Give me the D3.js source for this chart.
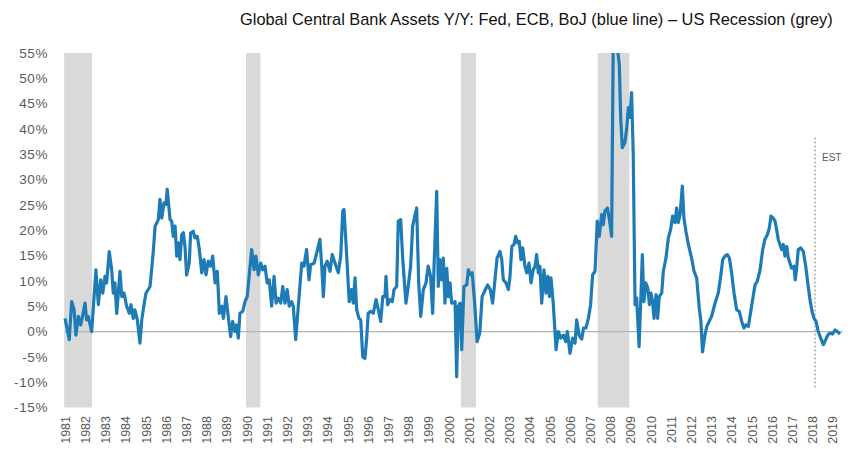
<!DOCTYPE html>
<html>
<head>
<meta charset="utf-8">
<script src="https://cdn.jsdelivr.net/npm/d3@7"></script>
<style>
  html, body { margin: 0; padding: 0; background: #fff; }
  svg { display: block; }
</style>
</head>
<body>
<svg id="chart" width="850" height="449"></svg>
<script>
// ---------- DATA ----------
const titleText = "Global Central Bank Assets Y/Y: Fed, ECB, BoJ (blue line) \u2013 US Recession (grey)";

// decimal year of each observation
const years = [
1981.54,1981.75,1981.87,1981.99,1982.08,1982.20,1982.32,1982.42,1982.53,1982.61,1982.69,1982.86,1982.94,
1983.07,1983.19,1983.31,1983.41,1983.52,1983.60,1983.73,1983.85,1983.93,1984.01,1984.10,1984.18,1984.26,
1984.35,1984.46,1984.59,1984.72,1984.81,1984.92,1985.00,1985.12,1985.25,1985.34,1985.45,1985.55,1985.66,
1985.75,1985.91,1986.00,1986.16,1986.24,1986.33,1986.44,1986.54,1986.60,1986.74,1986.82,1986.90,1986.99,
1987.07,1987.15,1987.23,1987.32,1987.40,1987.48,1987.56,1987.69,1987.76,1987.89,1987.97,1988.09,1988.19,
1988.31,1988.42,1988.52,1988.63,1988.75,1988.85,1988.97,1989.08,1989.18,1989.30,1989.38,1989.51,1989.62,
1989.74,1989.84,1989.96,1990.04,1990.12,1990.20,1990.34,1990.45,1990.56,1990.78,1990.90,1990.99,1991.11,
1991.23,1991.33,1991.44,1991.55,1991.65,1991.77,1991.89,1991.99,1992.10,1992.22,1992.32,1992.43,1992.54,
1992.64,1992.76,1992.84,1992.96,1993.09,1993.26,1993.37,1993.50,1993.62,1993.70,1993.87,1994.00,1994.16,
1994.25,1994.33,1994.41,1994.52,1994.66,1994.77,1994.91,1995.07,1995.19,1995.29,1995.35,1995.45,1995.61,
1995.73,1995.81,1995.90,1995.98,1996.09,1996.18,1996.28,1996.39,1996.48,1996.55,1996.67,1996.80,1996.94,
1997.05,1997.17,1997.27,1997.38,1997.43,1997.51,1997.63,1997.74,1997.83,1997.96,1998.04,1998.16,1998.26,
1998.42,1998.53,1998.65,1998.75,1998.95,1999.05,1999.15,1999.28,1999.41,1999.52,1999.64,1999.74,1999.82,
1999.94,2000.02,2000.10,2000.19,2000.27,2000.35,2000.44,2000.52,2000.60,2000.68,2000.85,2000.93,2001.01,
2001.10,2001.18,2001.29,2001.43,2001.51,2001.59,2001.70,2001.82,2001.94,2002.07,2002.19,2002.35,2002.46,
2002.59,2002.71,2002.81,2002.93,2003.07,2003.16,2003.24,2003.37,2003.49,2003.57,2003.66,2003.77,2003.85,
2003.95,2004.03,2004.11,2004.20,2004.31,2004.40,2004.51,2004.61,2004.72,2004.81,2004.89,2004.97,2005.05,
2005.14,2005.25,2005.35,2005.44,2005.52,2005.60,2005.71,2005.85,2005.96,2006.08,2006.21,2006.33,2006.41,
2006.54,2006.67,2006.79,2006.87,2006.99,2007.12,2007.21,2007.33,2007.45,2007.56,2007.66,2007.78,2007.89,
2007.99,2008.11,2008.19,2008.27,2008.39,2008.48,2008.60,2008.68,2008.85,2008.98,2009.05,2009.13,2009.26,
2009.35,2009.43,2009.51,2009.59,2009.67,2009.76,2009.84,2009.96,2010.06,2010.12,2010.20,2010.29,2010.39,
2010.47,2010.55,2010.63,2010.70,2010.80,2010.88,2010.96,2011.08,2011.16,2011.29,2011.41,2011.52,2011.62,
2011.74,2011.82,2011.90,2011.99,2012.10,2012.18,2012.28,2012.40,2012.56,2012.68,2012.81,2012.94,2013.02,
2013.10,2013.22,2013.31,2013.43,2013.55,2013.72,2013.88,2014.00,2014.10,2014.21,2014.33,2014.43,2014.54,
2014.66,2014.79,2014.92,2015.04,2015.15,2015.25,2015.37,2015.49,2015.58,2015.70,2015.81,2015.95,2016.08,
2016.19,2016.31,2016.41,2016.49,2016.60,2016.69,2016.77,2016.85,2016.93,2017.02,2017.10,2017.18,2017.27,
2017.35,2017.43,2017.51,2017.63,2017.69,2017.76,2017.84,2017.96,2018.09,2018.21,2018.31,2018.42,2018.52,
2018.62,2018.72,2018.83,2018.95,2019.08,2019.20,2019.30,2019.41,2019.53,2019.66,2019.77,2019.91
];

// year-over-year change of combined central bank assets, %
const values = [
2.6,-1.6,5.9,4.3,-0.7,3.0,1.3,3.3,5.6,2.3,3.0,0.0,4.6,
12.2,5.3,10.2,7.6,10.9,9.6,15.8,12.2,7.6,9.6,3.6,7.6,11.9,
6.9,7.6,5.0,3.6,5.3,2.6,4.3,2.3,-2.3,2.3,5.3,7.6,8.3,
8.9,15.8,20.8,22.1,26.1,22.4,25.4,25.1,28.1,22.1,21.8,18.8,20.8,
14.9,17.5,14.2,19.1,19.5,16.8,11.2,13.5,19.5,19.8,18.5,18.8,16.2,
11.6,14.2,11.2,13.9,12.9,14.9,9.6,11.9,3.6,5.0,2.6,6.9,3.0,
-1.0,2.0,0.0,1.3,-1.3,3.6,4.0,5.9,6.9,16.2,12.2,14.9,11.2,
13.5,12.2,12.9,9.6,10.2,5.0,10.9,5.6,6.6,5.6,8.9,5.6,8.3,
5.0,5.9,5.0,-1.6,5.0,13.5,12.9,16.2,10.2,13.2,13.5,15.5,18.2,
12.9,6.9,12.9,13.9,11.9,15.2,13.5,11.6,14.9,23.8,24.1,17.5,5.9,
8.3,5.6,10.6,4.3,2.6,2.3,-5.0,-5.3,-1.0,3.6,4.0,3.6,6.3,
4.3,2.0,6.9,6.9,10.9,5.3,6.3,5.9,8.3,8.9,21.8,22.1,14.2,
5.6,8.9,12.9,20.8,24.4,9.6,3.0,8.3,9.6,12.9,10.9,3.6,14.2,
27.7,8.9,14.2,10.2,14.5,5.6,12.5,6.9,9.6,5.6,5.9,-8.9,5.0,
5.6,-3.6,8.9,9.2,12.2,11.2,11.6,5.6,-2.0,-0.3,6.9,8.3,9.2,
8.3,5.6,9.6,14.5,15.8,14.2,10.2,9.6,8.3,10.9,16.8,17.2,18.8,
17.5,17.8,14.2,16.5,12.9,11.6,13.5,9.6,12.2,12.9,15.2,11.6,12.9,
5.6,12.2,7.6,10.9,6.9,10.6,5.6,-3.6,0.0,-1.3,-0.7,-2.0,0.0,
-4.3,-1.3,-2.3,2.3,-0.7,-1.5,0.7,0.7,2.6,5.3,11.2,11.9,21.8,
18.8,23.1,21.1,23.8,24.4,22.4,18.8,57.0,57.0,52.8,42.2,36.3,37.3,
40.3,44.2,42.3,47.2,35.0,5.3,6.6,-3.0,7.9,15.2,5.9,9.6,8.6,
5.3,7.6,5.9,2.6,7.3,2.6,6.9,7.6,11.9,14.5,18.5,20.1,22.8,
21.5,24.4,21.5,23.1,28.7,22.4,19.8,17.2,14.5,11.9,10.6,4.6,2.0,
-4.0,-0.7,1.0,2.0,3.0,5.6,7.6,10.9,14.2,14.9,15.2,14.5,11.6,
7.6,4.3,4.0,2.0,0.7,1.3,1.0,4.0,6.3,9.2,9.9,12.2,16.2,
18.2,19.1,20.5,22.8,22.4,21.8,20.1,18.2,17.2,16.2,17.2,14.9,16.8,
14.5,13.5,12.5,12.9,10.2,12.5,16.2,16.5,15.8,12.9,9.6,6.3,4.0,
2.6,2.0,0.0,-1.3,-2.6,-1.6,-0.7,-0.3,-0.5,0.3,0.0,-0.5
];

// US recessions (decimal years)
const recessionStarts = [1981.50, 1990.50, 2001.14, 2007.91];
const recessionEnds   = [1982.88, 1991.21, 2001.89, 2009.48];

// estimate marker
const estYear = 2018.67;
const estLabel = "EST";

// axes
const yTicks = [-15, -10, -5, 0, 5, 10, 15, 20, 25, 30, 35, 40, 45, 50, 55];
const xLabels = d3.range(1981, 2020).map(String);

// ---------- DRAW ----------
const svg = d3.select("#chart");
const x = d3.scaleLinear().domain([1981.5, 2020.05]).range([64.2, 842.9]);
const y = d3.scaleLinear().domain([-15, 55]).range([407.5, 53]);

const textColor = "#5a5a5a";

// title
svg.append("text")
  .attr("x", 240).attr("y", 25)
  .attr("font-family", "Liberation Sans, Arial, sans-serif")
  .attr("font-size", 16.4)
  .attr("fill", "#111")
  .text(titleText);

// recession bands
svg.append("g").selectAll("rect")
  .data(recessionStarts.map((s, i) => [s, recessionEnds[i]]))
  .join("rect")
  .attr("x", d => x(d[0]))
  .attr("width", d => x(d[1]) - x(d[0]))
  .attr("y", y(55))
  .attr("height", y(-15) - y(55))
  .attr("fill", "#d9d9d9");

// zero line
svg.append("line")
  .attr("x1", x.range()[0]).attr("x2", x.range()[1])
  .attr("y1", y(0)).attr("y2", y(0))
  .attr("stroke", "#b3b3b3").attr("stroke-width", 1.3);

// y axis labels
svg.append("g").selectAll("text")
  .data(yTicks)
  .join("text")
  .attr("x", 48)
  .attr("y", d => y(d))
  .attr("dy", "0.35em")
  .attr("text-anchor", "end")
  .attr("font-family", "Liberation Sans, Arial, sans-serif")
  .attr("font-size", 13.5)
  .attr("letter-spacing", "0.6px")
  .attr("fill", textColor)
  .text(d => d + "%");

// x axis labels (rotated)
svg.append("g").selectAll("text")
  .data(xLabels)
  .join("text")
  .attr("transform", d => `translate(${x(+d + 0.56)},416) rotate(-90)`)
  .attr("dy", "0.35em")
  .attr("text-anchor", "end")
  .attr("font-family", "Liberation Sans, Arial, sans-serif")
  .attr("font-size", 12.5)
  .attr("fill", textColor)
  .text(d => d);

// EST dotted line
svg.append("line")
  .attr("x1", x(estYear)).attr("x2", x(estYear))
  .attr("y1", y(38.3)).attr("y2", y(-11.5))
  .attr("stroke", "#999").attr("stroke-width", 1.2)
  .attr("stroke-dasharray", "2,2");
svg.append("text")
  .attr("x", x(estYear) + 7).attr("y", 161)
  .attr("font-family", "Liberation Sans, Arial, sans-serif")
  .attr("font-size", 10)
  .attr("fill", textColor)
  .text(estLabel);

// clip to plot area
svg.append("clipPath").attr("id", "plotclip")
  .append("rect")
  .attr("x", x.range()[0] - 5).attr("y", y(55))
  .attr("width", x.range()[1] - x.range()[0] + 10)
  .attr("height", y(-15) - y(55));

// blue line
const line = d3.line()
  .x(d => x(d[0]))
  .y(d => y(d[1]));
svg.append("path")
  .datum(years.map((t, i) => [t, values[i]]))
  .attr("clip-path", "url(#plotclip)")
  .attr("d", line)
  .attr("fill", "none")
  .attr("stroke", "#1e7bb6")
  .attr("stroke-width", 3.2)
  .attr("stroke-linejoin", "round");
</script>
</body>
</html>
